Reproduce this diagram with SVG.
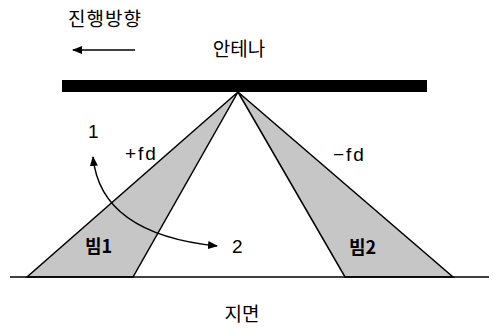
<svg xmlns="http://www.w3.org/2000/svg" width="497" height="329" viewBox="0 0 497 329">
<defs>
<style>
.t{font-family:"Noto Sans CJK KR","Noto Sans",sans-serif;font-size:19px;fill:#000}
.l{font-family:"Liberation Sans",Arial,sans-serif;font-size:19px;fill:#000}
.b{font-family:"Noto Sans CJK KR",sans-serif;font-size:18px;font-weight:bold;fill:#000}
.beam{fill:#c6c6c6;stroke:#000;stroke-width:1.5;stroke-linejoin:miter}
.ln{fill:none;stroke:#000;stroke-width:1.5}
</style>
<marker id="ah" markerWidth="10" markerHeight="8" refX="9" refY="4" orient="auto-start-reverse" markerUnits="userSpaceOnUse">
<path d="M0,0 L10,4 L0,8 Z" fill="#000"/>
</marker>
</defs>
<rect width="497" height="329" fill="#fff"/>
<g id="direction">
<text class="t" x="68" y="26" letter-spacing="1">진행방향</text>
<line class="ln" x1="135" y1="50" x2="73" y2="50" marker-end="url(#ah)"/>
</g>
<g id="antenna">
<text class="t" x="239" y="56" text-anchor="middle">안테나</text>
<rect x="62" y="80" width="365" height="12" fill="#000"/>
</g>
<g id="beam1">
<polygon class="beam" points="238,92 27,277 133,277"/>
<text class="b" x="85" y="253">빔1</text>
<text class="l" x="125" y="160" letter-spacing="2">+fd</text>
</g>
<g id="beam2">
<polygon class="beam" points="238,92 345,277 453,277"/>
<text class="b" x="349" y="254">빔2</text>
<text class="l" x="333" y="161" letter-spacing="2">−fd</text>
</g>
<g id="ground">
<line class="ln" x1="10" y1="277" x2="489" y2="277"/>
<text class="t" x="242" y="321" text-anchor="middle">지면</text>
</g>
<g id="connectors">
<path class="ln" d="M93,157 C98,208 140,238 217,246" marker-start="url(#ah)" marker-end="url(#ah)"/>
</g>
<g id="labels">
<text class="l" x="88" y="138">1</text>
<text class="l" x="232" y="253">2</text>
</g>
</svg>
